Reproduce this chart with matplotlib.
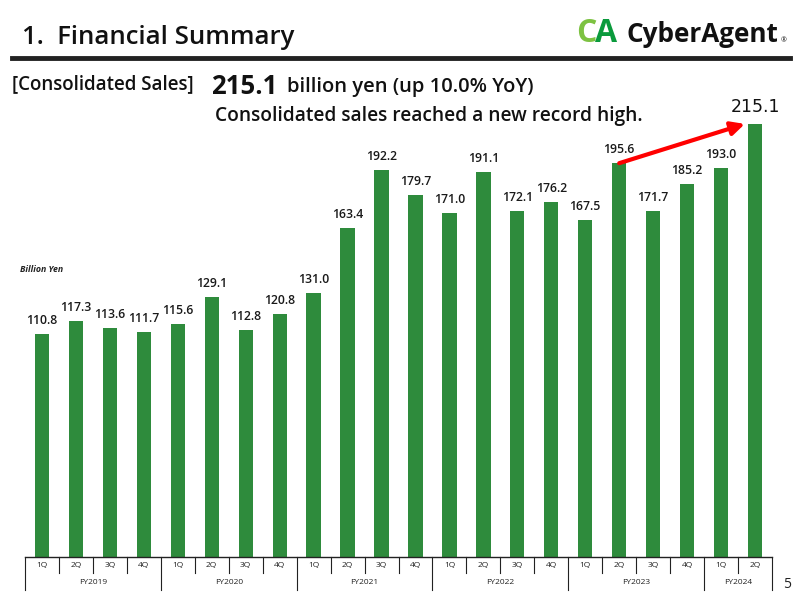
import matplotlib.pyplot as plt
import matplotlib.transforms as mtransforms

# 四半期ごとの連結売上高（十億円）
years = ["FY2019", "FY2020", "FY2021", "FY2022", "FY2023", "FY2024"]
quarters_per_year = [4, 4, 4, 4, 4, 2]
quarter_names = ["1Q", "2Q", "3Q", "4Q"]
sales = [110.8, 117.3, 113.6, 111.7,
         115.6, 129.1, 112.8, 120.8,
         131.0, 163.4, 192.2, 179.7,
         171.0, 191.1, 172.1, 176.2,
         167.5, 195.6, 171.7, 185.2,
         193.0, 215.1]

quarter_labels = []
for n in quarters_per_year:
    quarter_labels += quarter_names[:n]

plt.rcParams['font.family'] = ['Open Sans', 'DejaVu Sans']

W, H = 800, 600
fig = plt.figure(figsize=(8, 6), dpi=100)

# axes placed in pixel coords
ax_left, ax_right, ax_bottom, ax_top = 25, 772, 557, 104
ax = fig.add_axes([ax_left / W, 1 - ax_bottom / H,
                   (ax_right - ax_left) / W, (ax_bottom - ax_top) / H])
ax_h = ax_bottom - ax_top

green = "#2e8b3c"
x = list(range(len(sales)))
ax.bar(x, sales, width=0.42, color=green)
ax.set_xlim(-0.5, len(sales) - 0.5)
ax.set_ylim(0, 225)

for s in ["top", "right", "left"]:
    ax.spines[s].set_visible(False)
ax.spines["bottom"].set_color("#222222")
ax.spines["bottom"].set_linewidth(1.0)
ax.set_xticks([])
ax.set_yticks([])

# 値ラベル
for i, v in enumerate(sales):
    if i == len(sales) - 1:
        ax.annotate(f"{v:.1f}", (i, v), xytext=(0, 6), textcoords="offset points",
                    ha="center", va="bottom", fontsize=12.5, color="#111111",
                    family="DejaVu Sans")
    else:
        ax.annotate(f"{v:.1f}", (i, v), xytext=(0, 5), textcoords="offset points",
                    ha="center", va="bottom", fontsize=8.8, color="#1a1a1a",
                    family="Open Sans", fontweight="semibold")

# 赤い矢印 (2Q FY2023 -> 2Q FY2024)
ax.annotate("", xy=(len(sales) - 1 - 0.3, sales[-1]), xytext=(17, sales[17]),
            arrowprops=dict(arrowstyle="-|>", color="#ff0000", lw=3,
                            mutation_scale=20, shrinkA=0, shrinkB=0))

# 下の表（四半期・年度）
trans = mtransforms.blended_transform_factory(ax.transData, ax.transAxes)
def ypix(p):
    return -(p - ax_bottom) / ax_h

for i, q in enumerate(quarter_labels):
    ax.text(i, ypix(566), q, transform=trans, ha="center", va="center",
            fontsize=6, color="#222222", clip_on=False)

bounds = [-0.5]
for n in quarters_per_year:
    bounds.append(bounds[-1] + n)
for i in range(len(sales) + 1):
    b = i - 0.5
    y_end = ypix(590) if b in bounds else ypix(573)
    ax.plot([b, b], [0, y_end], transform=trans, color="#222222", lw=0.8,
            clip_on=False)
for j, yr in enumerate(years):
    ax.text((bounds[j] + bounds[j + 1]) / 2, ypix(583), yr, transform=trans,
            ha="center", va="center", fontsize=6, color="#222222", clip_on=False)

# 見出し
fig.text(22 / W, 1 - 38 / H, "1.  Financial Summary", fontsize=18.5,
         fontweight="semibold", color="#111111", va="center", ha="left")
fig.add_artist(plt.Line2D([12 / W, 790 / W], [1 - 58 / H, 1 - 58 / H],
                          color="#222222", lw=3.5))
fig.text(576 / W, 1 - 34 / H, "C", fontsize=23, fontweight="bold",
         color="#7dc242", va="center", ha="left")
fig.text(595 / W, 1 - 34 / H, "A", fontsize=23, fontweight="bold",
         color="#0a9a3c", va="center", ha="left")
fig.text(626 / W, 1 - 34 / H, "CyberAgent", fontsize=18.8, fontweight="bold",
         color="#111111", va="center", ha="left")
fig.text(781 / W, 1 - 41 / H, "®", fontsize=5, color="#111111",
         va="center", ha="left")

fig.text(12 / W, 1 - 84 / H, "[Consolidated Sales]", fontsize=13.5,
         fontweight="semibold", color="#111111", va="center", ha="left")
fig.text(211 / W, 1 - 86 / H, "215.1", fontsize=18.5, fontweight="bold",
         color="#111111", va="center", ha="left")
fig.text(287 / W, 1 - 87 / H, "billion yen (up 10.0% YoY)", fontsize=14.5,
         fontweight="semibold", color="#111111", va="center", ha="left")
fig.text(215 / W, 1 - 116 / H, "Consolidated sales reached a new record high.",
         fontsize=13.8, fontweight="semibold", color="#111111", va="center", ha="left")

fig.text(20 / W, 1 - 270 / H, "Billion Yen", fontsize=6.3, style="italic",
         fontweight="bold", color="#222222", va="center", ha="left")
fig.text(783 / W, 1 - 585 / H, "5", fontsize=10, color="#222222",
         va="center", ha="left")

fig.savefig("out.png", dpi=100)
